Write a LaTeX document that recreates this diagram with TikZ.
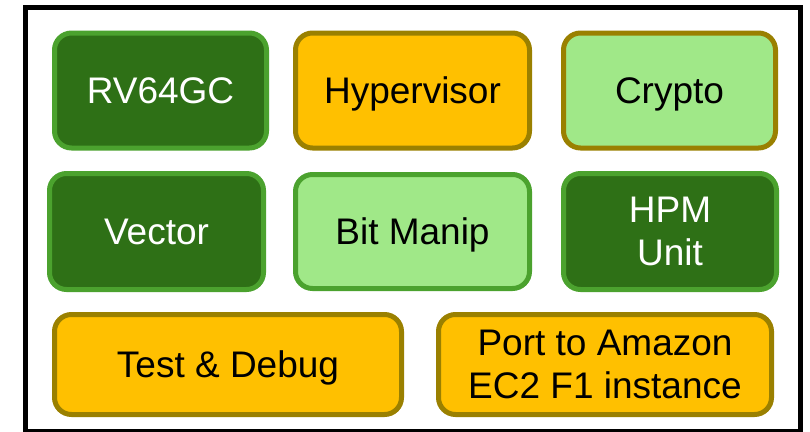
\documentclass[tikz,border=0pt]{standalone}
\usepackage{fontspec}
\setmainfont{Liberation Sans}
\definecolor{dkgreen}{HTML}{2E7016}
\definecolor{ltgreen}{HTML}{A0E888}
\definecolor{grborder}{HTML}{4BA22E}
\definecolor{orfill}{HTML}{FFC000}
\definecolor{olborder}{HTML}{9A8000}
\tikzset{
  blk/.style={rounded corners=17pt, line width=5pt, inner sep=0pt, align=center,
    font=\fontsize{37}{43}\selectfont},
  oneline/.style={text height=26.5pt, text depth=0pt},
  darkblk/.style={blk, draw=grborder, fill=dkgreen, text=white},
  lightblk/.style={blk, draw=grborder, fill=ltgreen, text=black},
  lightolblk/.style={blk, draw=olborder, fill=ltgreen, text=black},
  orblk/.style={blk, draw=olborder, fill=orfill, text=black},
}
\begin{document}
\begin{tikzpicture}[x=1pt,y=-1pt]
\useasboundingbox (0,0) rectangle (810,431);
\draw[line width=5pt] (25.5,7.5) rectangle (800.5,431.5);
\node[darkblk, oneline, minimum width=212pt, minimum height=115pt] (rv) at (160.5,90.5) {RV64GC};
\node[orblk, oneline, minimum width=234pt, minimum height=115pt] (hyp) at (412.5,90.5) {Hypervisor};
\node[lightolblk, oneline, minimum width=212pt, minimum height=115pt] (cry) at (669.5,90.5) {Crypto};
\node[darkblk, oneline, minimum width=214pt, minimum height=116pt] (vec) at (156.5,231.5) {Vector};
\node[lightblk, oneline, minimum width=234pt, minimum height=114pt] (bit) at (412.5,231.5) {Bit Manip};
\node[darkblk, minimum width=213pt, minimum height=116pt] (hpm) at (670,231.5) {HPM\\Unit};
\node[orblk, oneline, minimum width=347pt, minimum height=100pt] (test) at (228,364.5) {Test \& Debug};
\node[orblk, minimum width=333pt, minimum height=100pt] (port) at (605,364.5) {Port to Amazon\\EC2 F1 instance};
\end{tikzpicture}
\end{document}
